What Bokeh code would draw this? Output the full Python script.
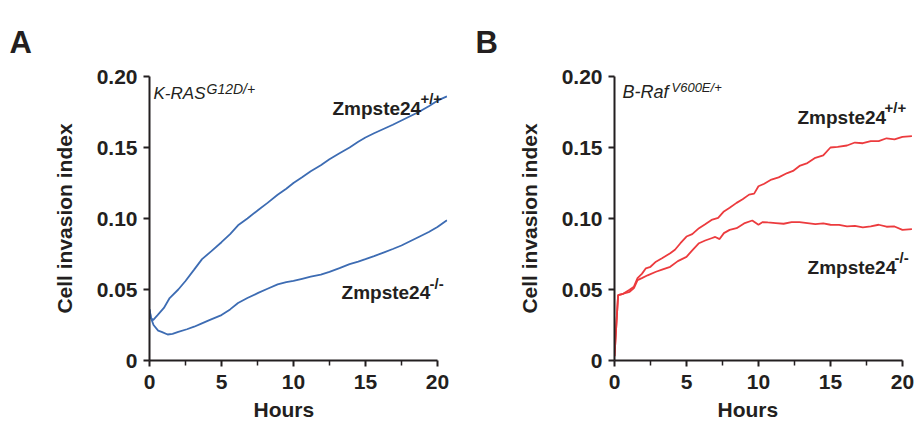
from bokeh.plotting import figure
from bokeh.layouts import row
from bokeh.models import FixedTicker, Range1d, Label, Title
from bokeh.embed import file_html
from bokeh.resources import INLINE

# ---------------- data ----------------
# Panel A: K-RAS G12D/+
hours_a_wt = [0, 0.1, 0.25, 0.56, 1.0, 1.4, 2.0, 2.5, 3.1, 3.65, 4.3, 5.0, 5.6, 6.15, 6.8, 7.55, 8.2,
              8.9, 9.5, 10.0, 10.6, 11.2, 11.9, 12.5, 13.2, 13.9, 14.5, 15.0, 15.6, 16.25, 16.9,
              17.5, 18.1, 18.7, 19.4, 20.0, 20.66]
cii_a_wt = [0.036, 0.030, 0.0285, 0.032, 0.037, 0.044, 0.050, 0.056, 0.064, 0.0714, 0.077, 0.0833,
            0.089, 0.0952, 0.100, 0.106, 0.111, 0.1167, 0.121, 0.125, 0.129, 0.1333, 0.1375, 0.1417,
            0.146, 0.150, 0.154, 0.157, 0.160, 0.163, 0.166, 0.169, 0.172, 0.175, 0.179, 0.183, 0.186]

hours_a_ko = [0, 0.1, 0.28, 0.6, 0.84, 1.26, 1.6, 2.0, 2.6, 3.1, 3.6, 4.2, 5.0, 5.6, 6.15, 6.8, 7.55,
              8.2, 8.9, 9.5, 10.0, 10.6, 11.2, 11.9, 12.5, 13.2, 13.9, 14.5, 15.0, 15.6, 16.25, 16.9,
              17.5, 18.1, 18.7, 19.4, 20.0, 20.66]
cii_a_ko = [0.036, 0.030, 0.025, 0.021, 0.0202, 0.0183, 0.0188, 0.0202, 0.022, 0.0238, 0.026, 0.0286,
            0.032, 0.036, 0.0405, 0.044, 0.0476, 0.0505, 0.0536, 0.0552, 0.056, 0.0575, 0.059, 0.0605,
            0.0624, 0.065, 0.0679, 0.0697, 0.0714, 0.0735, 0.076, 0.0785, 0.081, 0.084, 0.087, 0.0905,
            0.094, 0.0988]

# Panel B: B-Raf V600E/+
hours_b_wt = [0, 0.25, 0.6, 1.05, 1.35, 1.6, 1.9, 2.18, 2.5, 2.88, 3.3, 3.87, 4.2, 4.58, 5.0, 5.4,
              5.87, 6.3, 6.74, 7.2, 7.6, 8.0, 8.48, 8.9, 9.35, 9.7, 10.0, 10.4, 10.9, 11.4, 12.0,
              12.4, 12.85, 13.4, 13.95, 14.5, 15.0, 15.5, 16.15, 16.7, 17.25, 17.8, 18.35, 18.9,
              19.45, 20.0, 20.66]
cii_b_wt = [0.003, 0.046, 0.047, 0.0498, 0.052, 0.058, 0.061, 0.0649, 0.066, 0.0696, 0.072, 0.0755,
            0.078, 0.0826, 0.0873, 0.089, 0.0932, 0.096, 0.099, 0.1005, 0.105, 0.1075, 0.111, 0.1135,
            0.1168, 0.1175, 0.1227, 0.1245, 0.1274, 0.129, 0.132, 0.1335, 0.137, 0.139, 0.1427,
            0.1445, 0.150, 0.1505, 0.1514, 0.1535, 0.153, 0.1545, 0.1545, 0.1565, 0.1557, 0.1575,
            0.158]

hours_b_ko = [0, 0.25, 0.6, 1.05, 1.35, 1.6, 1.9, 2.3, 2.88, 3.3, 3.87, 4.4, 5.0, 5.4, 5.87, 6.3,
              6.74, 7.0, 7.3, 7.6, 8.0, 8.48, 9.0, 9.57, 10.0, 10.3, 10.65, 11.2, 11.75, 12.3,
              12.85, 13.4, 13.95, 14.5, 15.0, 15.6, 16.15, 16.7, 17.25, 17.8, 18.35, 18.9, 19.45,
              20.0, 20.66]
cii_b_ko = [0.003, 0.046, 0.047, 0.0484, 0.051, 0.0566, 0.058, 0.060, 0.0625, 0.064, 0.066, 0.070,
            0.073, 0.0775, 0.0826, 0.0845, 0.0861, 0.087, 0.0855, 0.0897, 0.092, 0.0932, 0.0965,
            0.0986, 0.0956, 0.0975, 0.0972, 0.0968, 0.0963, 0.0975, 0.0975, 0.0968, 0.096, 0.0965,
            0.0956, 0.0955, 0.0944, 0.0948, 0.0937, 0.0945, 0.0956, 0.0942, 0.0944, 0.092, 0.0925]

x_ticks = [0, 5, 10, 15, 20]
x_minor = [2.5, 7.5, 12.5, 17.5]
y_ticks = [0, 0.05, 0.1, 0.15, 0.2]
y_tick_labels = ["0", "0.05", "0.10", "0.15", "0.20"]

BLUE = "#3d6cb3"
RED = "#ec3b3e"
INK = "#231f20"
FONT = "Liberation Sans"


def make_panel(width, left, right, panel_letter, letter_offset, hours_offset):
    p = figure(width=width, height=431, output_backend="svg", toolbar_location=None,
               x_range=Range1d(0, 20.7), y_range=Range1d(0, 0.2),
               min_border_left=left, min_border_right=right,
               min_border_top=76, min_border_bottom=71)
    p.outline_line_color = None
    p.xgrid.visible = False
    p.ygrid.visible = False
    p.background_fill_color = "white"
    p.title.text = panel_letter
    p.title.align = "left"
    p.title.offset = letter_offset
    p.title.standoff = 33
    p.title.text_font = FONT
    p.title.text_font_size = "31px"
    p.title.text_font_style = "bold"
    p.title.text_color = INK
    for ax in (p.xaxis[0], p.yaxis[0]):
        ax.axis_line_color = INK
        ax.axis_line_width = 2
        ax.major_tick_line_color = INK
        ax.major_tick_line_width = 2
        ax.minor_tick_line_color = INK
        ax.minor_tick_line_width = 1.5
        ax.major_tick_in = 0
        ax.major_tick_out = 6
        ax.minor_tick_in = 0
        ax.minor_tick_out = 5
        ax.major_label_text_font = FONT
        ax.major_label_text_font_size = "21px"
        ax.major_label_text_font_style = "bold"
        ax.major_label_text_color = INK
        ax.axis_label_text_font = FONT
        ax.axis_label_text_font_size = "21px"
        ax.axis_label_text_font_style = "bold"
        ax.axis_label_text_color = INK
    p.xaxis[0].ticker = FixedTicker(ticks=x_ticks, minor_ticks=x_minor)
    p.xaxis[0].bounds = (0, 20)
    p.xaxis[0].major_label_standoff = 8
    p.yaxis[0].ticker = FixedTicker(ticks=y_ticks, minor_ticks=[])
    p.yaxis[0].bounds = (0, 0.2)
    p.yaxis[0].major_label_standoff = 6
    p.yaxis[0].major_label_overrides = {t: s for t, s in zip(y_ticks, y_tick_labels)}
    p.yaxis[0].axis_label = "Cell invasion index"
    p.yaxis[0].axis_label_standoff = 18
    p.add_layout(Title(text="Hours", align="left", offset=hours_offset, vertical_align="top",
                       standoff=12, text_font=FONT, text_font_size="21px",
                       text_font_style="bold", text_color=INK), "below")
    return p


def add_text(p, x, y, text, size, style="bold"):
    p.add_layout(Label(x=x, y=y, text=text, text_font=FONT, text_font_size=size,
                       text_font_style=style, text_color=INK, text_align="left",
                       text_baseline="alphabetic"))


# ---------------- panel A ----------------
pa = make_panel(458, 149, 11, "A", -140, 104)
pa.line(hours_a_wt, cii_a_wt, line_color=BLUE, line_width=1.8)
pa.line(hours_a_ko, cii_a_ko, line_color=BLUE, line_width=1.8)
add_text(pa, 0.28, 0.188, "K-RAS", "17px", "italic")
add_text(pa, 3.96, 0.1915, "G12D/+", "14px", "italic")
add_text(pa, 12.71, 0.1775, "Zmpste24", "19px")
add_text(pa, 18.82, 0.1845, "+/+", "15px")
add_text(pa, 13.34, 0.0479, "Zmpste24", "19px")
add_text(pa, 19.45, 0.0542, "-/-", "15px")

# ---------------- panel B ----------------
pb = make_panel(460, 156, 6, "B", -139, 103)
pb.line(hours_b_wt, cii_b_wt, line_color=RED, line_width=1.8)
pb.line(hours_b_ko, cii_b_ko, line_color=RED, line_width=1.8)
add_text(pb, 0.556, 0.1894, "B-Raf", "18px", "italic")
add_text(pb, 3.96, 0.1923, "V600E/+", "13px", "italic")
add_text(pb, 12.71, 0.1711, "Zmpste24", "19px")
add_text(pb, 18.76, 0.1782, "+/+", "15px")
add_text(pb, 13.41, 0.0655, "Zmpste24", "19px")
add_text(pb, 19.45, 0.0725, "-/-", "15px")

layout = row(pa, pb, spacing=0)
open("out.html", "w").write(file_html(layout, INLINE))
